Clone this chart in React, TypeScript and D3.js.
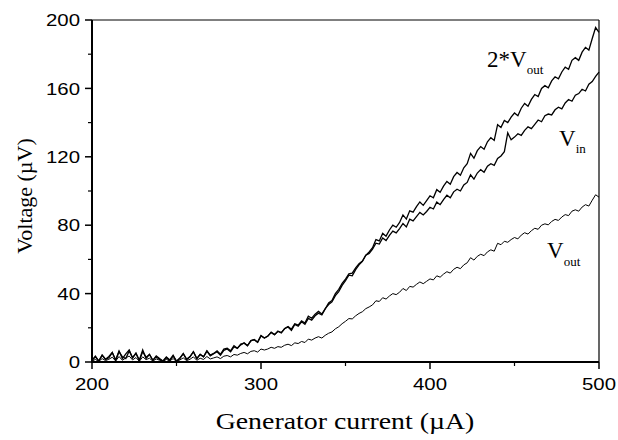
import React from "react";
import * as d3 from "d3";

// Generator current (µA), step 2 from 200 to 500
const currents: number[] = d3.range(200, 501, 2);

// V_in (µV)
const vin: number[] = [
  1.0, 3.5, 0.5, 4.0, 1.5, 2.5, 5.5, 1.0, 6.0, 3.0, 2.0, 6.5, 2.5, 5.0, 1.0, 7.0, 2.0, 4.5, 1.0, 3.0,
  1.5, 0.5, 2.5, 1.0, 3.5, 0.5, 2.0, 5.0, 1.5, 3.0, 6.0, 2.0, 4.5, 3.0, 6.5, 4.0,
  5.0, 6.5, 4.5, 7.5, 8.0, 6.5, 9.5, 8.0, 10.5, 11.0, 9.5, 12.5, 13.0, 11.5, 15.5, 14.0, 15.0, 17.5,
  16.0, 18.0, 17.0, 19.5, 20.5, 18.5, 22.0, 21.0, 23.5, 22.0, 25.5, 24.5, 27.0, 28.5, 27.5, 31.0,
  34.5, 36.0, 40.0, 42.5, 46.0, 48.5, 51.5, 52.0, 55.0, 57.5, 59.0, 62.5, 63.5, 66.0, 69.5, 69.0,
  72.5, 71.0, 74.0, 76.5, 75.5, 78.0, 81.0, 79.0, 83.5, 82.5, 85.0, 87.5, 86.0, 88.0, 90.5, 89.5,
  93.5, 92.0, 95.0, 97.5, 96.0, 99.5, 101.0, 100.0, 103.5, 105.0, 109.5, 107.0, 110.5, 112.5, 111.0,
  114.5, 116.0, 115.0, 119.0, 120.5, 123.0, 134.0, 130.0, 131.5, 133.5, 132.5, 135.5, 137.5, 136.5,
  139.0, 141.5, 140.5, 144.0, 145.0, 144.5, 147.5, 149.0, 148.0, 151.5, 153.5, 152.5, 156.0, 157.0,
  159.5, 158.5, 162.5, 164.0, 167.0, 169.5,
];

// V_out (µV)
const vout: number[] = [
  0.5, 1.5, 0.3, 2.0, 0.8, 1.6, 2.8, 0.6, 3.2, 1.0, 2.4, 3.5, 1.2, 2.6, 0.4, 3.0, 1.4, 2.2, 0.5, 1.8,
  1.0, 0.3, 1.5, 0.6, 2.0, 0.2, 1.2, 2.4, 0.8, 1.6, 3.0, 1.0, 2.2, 1.5, 3.2, 1.8,
  2.4, 3.0, 2.0, 3.4, 3.8, 3.0, 4.4, 4.0, 5.0, 5.6, 4.8, 6.2, 6.6, 5.8, 7.6, 7.0, 7.6, 8.6,
  8.0, 9.0, 8.6, 9.8, 10.4, 9.6, 11.2, 10.8, 12.0, 11.4, 13.4, 12.8, 14.0, 14.8, 14.0, 15.6,
  16.8, 17.6, 19.4, 20.6, 22.4, 23.8, 25.4, 25.2, 27.0, 28.4, 29.4, 31.2, 32.2, 33.4, 35.8, 35.4,
  37.6, 36.8, 38.6, 40.0, 39.4, 40.8, 43.0, 41.8, 44.2, 43.8, 45.4, 46.8, 45.8, 47.2, 48.6, 48.0,
  50.4, 49.6, 51.4, 52.8, 52.0, 54.2, 55.4, 54.6, 56.8, 58.0, 61.0, 59.6, 61.8, 63.0, 62.2,
  64.4, 65.6, 64.8, 69.4, 68.6, 70.6, 70.0, 71.6, 72.8, 72.0, 74.2, 75.6, 74.8, 76.8, 78.2,
  77.6, 80.0, 80.8, 80.2, 82.2, 83.4, 82.8, 84.8, 86.2, 85.6, 88.2, 89.0, 88.2, 90.6, 92.0,
  91.2, 94.6, 97.8, 96.4,
];

const xMajor: number[] = [200, 300, 400, 500];
const xMinor: number[] = [250, 350, 450];
const yMajor: number[] = [0, 40, 80, 120, 160, 200];
const yMinor: number[] = [20, 60, 100, 140, 180];

export default function App() {
  const x = d3.scaleLinear().domain([200, 500]).range([92, 599]);
  const y = d3.scaleLinear().domain([0, 200]).range([362, 20]);
  const line = d3
    .line<number>()
    .x((_, i) => x(currents[i]))
    .y((v) => y(Math.max(0, v)));
  const twoVout = vout.map((v) => 2 * v);
  const tickFont = "'Liberation Sans', Arial, sans-serif";
  const serif = "'Liberation Serif', 'Times New Roman', serif";
  return (
    <svg
      width={618}
      height={440}
      style={{ position: "absolute", left: 0, top: 0, background: "#fff" }}
    >
      <rect x={0} y={0} width={618} height={440} fill="#fff" />
      {/* frame */}
      <line x1={x(200)} x2={x(500)} y1={y(200)} y2={y(200)} stroke="#000" strokeWidth={1} />
      <line x1={x(500)} x2={x(500)} y1={y(200)} y2={y(0)} stroke="#000" strokeWidth={1.2} />
      {/* data */}
      <path d={line(vout) || ""} fill="none" stroke="#000" strokeWidth={1} />
      <path d={line(vin) || ""} fill="none" stroke="#000" strokeWidth={1.3} />
      <path d={line(twoVout) || ""} fill="none" stroke="#000" strokeWidth={1.3} />
      {/* axes */}
      <line x1={x(200)} x2={x(200)} y1={y(200)} y2={y(0) + 1} stroke="#000" strokeWidth={2} />
      <line x1={x(200) - 1} x2={x(500)} y1={y(0)} y2={y(0)} stroke="#000" strokeWidth={2} />
      {yMajor.map((t) => (
        <g key={"ym" + t}>
          <line x1={x(200) - 7} x2={x(200)} y1={y(t)} y2={y(t)} stroke="#000" strokeWidth={1.5} />
          <text
            transform={`translate(80,${y(t)}) scale(1.2,1)`}
            dy="0.36em"
            textAnchor="end"
            fontFamily={tickFont}
            fontSize={17}
          >
            {t}
          </text>
        </g>
      ))}
      {yMinor.map((t) => (
        <line key={"yn" + t} x1={x(200) - 4} x2={x(200)} y1={y(t)} y2={y(t)} stroke="#000" strokeWidth={1.2} />
      ))}
      {xMajor.map((t) => (
        <g key={"xm" + t}>
          <line x1={x(t)} x2={x(t)} y1={y(0)} y2={y(0) + 7} stroke="#000" strokeWidth={1.5} />
          <text
            transform={`translate(${x(t)},390) scale(1.2,1)`}
            textAnchor="middle"
            fontFamily={tickFont}
            fontSize={17}
          >
            {t}
          </text>
        </g>
      ))}
      {xMinor.map((t) => (
        <line key={"xn" + t} x1={x(t)} x2={x(t)} y1={y(0)} y2={y(0) + 4} stroke="#000" strokeWidth={1.2} />
      ))}
      {/* axis titles */}
      <text
        transform="translate(345,429) scale(1.16,1)"
        textAnchor="middle"
        fontFamily={serif}
        fontSize={24}
      >
        Generator current (µA)
      </text>
      <text
        transform="translate(32,196) rotate(-90)"
        textAnchor="middle"
        fontFamily={serif}
        fontSize={22}
      >
        Voltage (µV)
      </text>
      {/* annotations */}
      <text x={487} y={67} fontFamily={serif} fontSize={23}>
        2*V
        <tspan fontSize={13} dy={7}>out</tspan>
      </text>
      <text x={559} y={146} fontFamily={serif} fontSize={23}>
        V
        <tspan fontSize={13} dy={7}>in</tspan>
      </text>
      <text x={547} y={258} fontFamily={serif} fontSize={23}>
        V
        <tspan fontSize={13} dy={8}>out</tspan>
      </text>
    </svg>
  );
}
